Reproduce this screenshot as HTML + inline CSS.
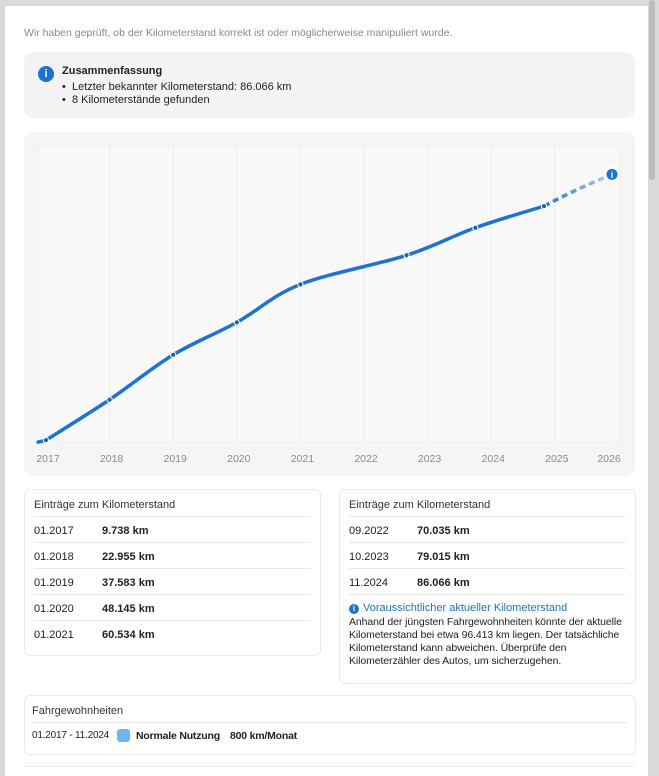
<!DOCTYPE html>
<html><head><meta charset="utf-8"><style>
body{margin:0;width:659px;height:768px;background:#d9d9d9;font-family:"Liberation Sans",sans-serif;overflow:hidden;position:relative}
.card{position:absolute;left:5px;top:6px;width:643px;height:770px;background:#fff}
.abs{position:absolute}
.box{position:absolute;border:1px solid #ececec;border-radius:6px;background:#fff}
.t{font-size:11px;color:#222}
.row{position:absolute;left:9px;right:9px;height:26px;border-top:1px solid #eaeaea;font-size:11px;color:#222}
.row span{position:absolute;top:8px}
.row b{position:absolute;left:68px;top:8px}
</style></head><body>
<div class="card"></div>
<div class="abs" style="left:649px;top:0;width:6px;height:180px;background:#bdbdbd;border-radius:3px"></div>
<div class="abs" style="left:24px;top:27px;font-size:10.5px;color:#8a8a8a">Wir haben geprüft, ob der Kilometerstand korrekt ist oder möglicherweise manipuliert wurde.</div>
<div class="abs" style="left:24px;top:52px;width:611px;height:66px;background:#f3f3f3;border-radius:10px">
 <div class="abs" style="left:14px;top:14px;width:16px;height:16px;border-radius:50%;background:#1a73d9;color:#fff;font-size:11px;font-weight:bold;text-align:center;line-height:16px">i</div>
 <div class="abs t" style="left:38px;top:13px;font-weight:bold">Zusammenfassung</div>
 <div class="abs t" style="left:38px;top:29px">•&nbsp; Letzter bekannter Kilometerstand: 86.066 km</div>
 <div class="abs t" style="left:38px;top:42px">•&nbsp; 8 Kilometerstände gefunden</div>
</div>
<div class="abs" style="left:24px;top:132px;width:611px;height:344px;background:#f5f5f5;border-radius:10px"></div>
<svg class="abs" style="left:0;top:0" width="659" height="480" id="chart"></svg>

<div class="box" style="left:24px;top:489px;width:295px;height:165px">
 <div class="abs t" style="left:9px;top:9px;color:#333">Einträge zum Kilometerstand</div>
 <div class="row" style="top:26px"><span>01.2017</span><b>9.738 km</b></div>
 <div class="row" style="top:52px"><span>01.2018</span><b>22.955 km</b></div>
 <div class="row" style="top:78px"><span>01.2019</span><b>37.583 km</b></div>
 <div class="row" style="top:104px"><span>01.2020</span><b>48.145 km</b></div>
 <div class="row" style="top:130px"><span>01.2021</span><b>60.534 km</b></div>
</div>
<div class="box" style="left:339px;top:489px;width:295px;height:193px">
 <div class="abs t" style="left:9px;top:9px;color:#333">Einträge zum Kilometerstand</div>
 <div class="row" style="top:26px"><span>09.2022</span><b>70.035 km</b></div>
 <div class="row" style="top:52px"><span>10.2023</span><b>79.015 km</b></div>
 <div class="row" style="top:78px"><span>11.2024</span><b>86.066 km</b></div>
 <div class="abs" style="left:9px;right:9px;top:104px;border-top:1px solid #eaeaea"></div>
 <div class="abs" style="left:9px;top:114px;width:10px;height:10px;border-radius:50%;background:#1a73d9;color:#fff;font-size:8px;font-weight:bold;text-align:center;line-height:10px">i</div>
 <div class="abs" style="left:23px;top:112px;font-size:11px;color:#1a73d9">Voraussichtlicher aktueller Kilometerstand</div>
 <div class="abs t" style="left:9px;top:126px;width:290px;line-height:13px;font-size:10.5px;white-space:nowrap;letter-spacing:-0.1px">Anhand der jüngsten Fahrgewohnheiten könnte der aktuelle<br>Kilometerstand bei etwa 96.413 km liegen. Der tatsächliche<br>Kilometerstand kann abweichen. Überprüfe den<br>Kilometerzähler des Autos, um sicherzugehen.</div>
</div>
<div class="box" style="left:24px;top:695px;width:610px;height:58px">
 <div class="abs t" style="left:7px;top:9px;color:#333">Fahrgewohnheiten</div>
 <div class="abs" style="left:7px;right:7px;top:26px;border-top:1px solid #eaeaea"></div>
 <div class="abs t" style="left:7px;top:34px;font-size:10px;letter-spacing:-0.2px">01.2017 - 11.2024</div>
 <div class="abs" style="left:92px;top:33px;width:13px;height:13px;border-radius:3px;background:#6bb8f5"></div>
 <div class="abs t" style="left:111px;top:34px;font-weight:bold;font-size:10.5px;letter-spacing:-0.2px">Normale Nutzung</div>
 <div class="abs t" style="left:205px;top:34px;font-weight:bold;font-size:10.5px;letter-spacing:-0.2px">800 km/Monat</div>
</div>
<div class="abs" style="left:24px;top:766px;width:610px;border-top:1px solid #ececec"></div>
<script>
const years=[2017,2018,2019,2020,2021,2022,2023,2024,2025,2026];
const pointDates=[2017.0,2018.0,2019.0,2020.0,2021.0,2022.67,2023.75,2024.83];
const pointValues=[9738,22955,37583,48145,60534,70035,79015,86066];
const projectedDate=[2025.9];
const projectedValue=[96413];
const NS='http://www.w3.org/2000/svg';
const svg=document.getElementById('chart');
const x=d=>46+(d-2017)*63.6;
const y=v=>470-v*0.003066;
function el(t,a){const e=document.createElementNS(NS,t);for(const k in a)e.setAttribute(k,a[k]);svg.appendChild(e);return e;}
const pa=el('rect',{x:38,y:146,width:582,height:296,fill:'#f9f9f9',stroke:'#efefef',rx:6});

years.forEach((yr,i)=>{
 if(i>0&&i<years.length-1){const g=el('line',{x1:x(yr),x2:x(yr),y1:146,y2:442,stroke:'#ececec'});
 }
 const t=el('text',{x:i==years.length-1?Math.min(x(yr),609):x(yr)+2,y:462,'font-size':10.5,fill:'#8a8a8a','text-anchor':'middle','font-family':'Liberation Sans'});
 t.textContent=yr;
 
});
const pts=pointDates.map((d,i)=>[x(d),y(pointValues[i])]);
function spline(p){let s='M'+p[0][0]+','+p[0][1];for(let i=0;i<p.length-1;i++){const p0=p[i-1]||p[i],p1=p[i],p2=p[i+1],p3=p[i+2]||p2;
 s+=' C'+(p1[0]+(p2[0]-p0[0])/6)+','+(p1[1]+(p2[1]-p0[1])/6)+' '+(p2[0]-(p3[0]-p1[0])/6)+','+(p2[1]-(p3[1]-p1[1])/6)+' '+p2[0]+','+p2[1];}return s;}
const lead=el('line',{x1:38,y1:pts[0][1]+2,x2:pts[0][0],y2:pts[0][1],stroke:'#1a73d9','stroke-width':3.5,'stroke-linecap':'round'});

const line=el('path',{d:spline(pts),fill:'none',stroke:'#1a73d9','stroke-width':3.5,'stroke-linecap':'round'});

const last=pts[pts.length-1],pp=[x(projectedDate[0]),y(projectedValue[0])];
const grad=el('linearGradient',{id:'pg',x1:0,x2:1,y1:0,y2:0});
el('stop',{offset:0,'stop-color':'#1a73d9'});el('stop',{offset:1,'stop-color':'#b8d2ee'});
grad.appendChild(svg.lastChild.previousSibling);grad.appendChild(svg.lastChild);
const mx=(last[0]+pp[0])/2;
const proj=el('path',{d:`M${last[0]},${last[1]} Q${mx},${(last[1]+pp[1])/2-2} ${pp[0]},${pp[1]}`,fill:'none',stroke:'url(#pg)','stroke-width':3.5,'stroke-dasharray':'6 4'});

pts.forEach(p=>{const c=el('circle',{cx:p[0],cy:p[1],r:2.6,fill:'#1560b8',stroke:'#fff','stroke-width':1});
 });
const pc=el('circle',{cx:pp[0],cy:pp[1],r:5.5,fill:'#1a73d9'});

const pt=el('text',{x:pp[0],y:pp[1]+3.5,'font-size':9,'font-weight':'bold',fill:'#fff','text-anchor':'middle','font-family':'Liberation Sans'});
pt.textContent='i';
</script>
</body></html>
